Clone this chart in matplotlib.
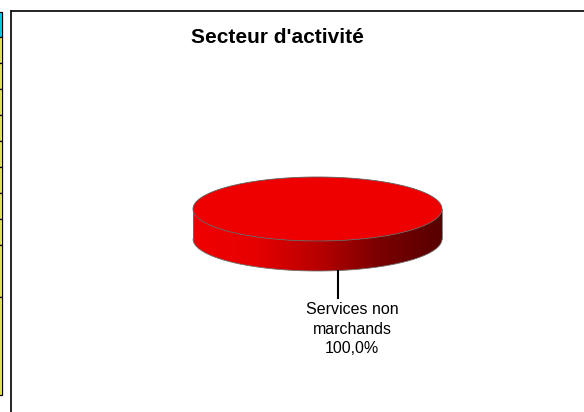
import numpy as np
import matplotlib
matplotlib.use('Agg')
import matplotlib.pyplot as plt
from matplotlib.patches import Polygon, Rectangle
from matplotlib.colors import LinearSegmentedColormap

plt.rcParams['font.family'] = ['Liberation Sans', 'DejaVu Sans']

# data
labels = ['Services non\nmarchands']
values = [100.0]
title = "Secteur d'activité"

W, H = 584, 412
fig = plt.figure(figsize=(W / 100, H / 100), dpi=100)
ax = fig.add_axes([0, 0, 1, 1])
ax.set_xlim(0, W)
ax.set_ylim(H, 0)
ax.axis('off')

# left strip of cells (piece of neighbouring table)
edges = [12, 37, 63, 89, 115, 141, 167, 193, 219, 245, 297, 395]
for i in range(len(edges) - 1):
    fc = '#00e8ff' if i == 0 else '#ffff60'
    ax.add_patch(Rectangle((-1, edges[i]), 3.2, edges[i + 1] - edges[i],
                           facecolor=fc, edgecolor='black', linewidth=0.9))

# chart frame
ax.plot([11, 11], [10, H + 2], color='black', lw=1.2, solid_capstyle='butt')
ax.plot([11, W + 2], [10.5, 10.5], color='black', lw=1.2, solid_capstyle='butt')

ax.text(277, 37, title, ha='center', va='center', fontsize=15, fontweight='bold')

# 3d pie geometry
cx, cy, rx, ry, depth = 317.5, 209, 124.5, 32, 30
side_cmap = LinearSegmentedColormap.from_list(
    'side', ['#f00000', '#e60000', '#b80000', '#7a0000', '#580000'])

total = sum(values)
start = 90.0
for lab, v in zip(labels, values):
    frac = v / total
    t1, t2 = start, start + frac * 360
    start = t2
    # side (front half only)
    a = max(t1, 180) if t2 - t1 < 360 else 180
    b = min(t2, 360) if t2 - t1 < 360 else 360
    if b > a:
        tt = np.radians(np.linspace(a, b, 200))
        xs = cx + rx * np.cos(tt)
        ys = cy - ry * np.sin(tt)
        pts = np.column_stack([np.r_[xs, xs[::-1]], np.r_[ys, ys[::-1] + depth]])
        side = Polygon(pts, closed=True, facecolor='none', edgecolor='none')
        ax.add_patch(side)
        grad = np.linspace(0, 1, 256).reshape(1, -1)
        im = ax.imshow(grad, cmap=side_cmap, aspect='auto',
                       extent=[cx - rx, cx + rx, cy + ry + depth, cy - ry],
                       interpolation='bilinear', zorder=2)
        im.set_clip_path(side)
        ax.plot(xs, ys + depth, color='#707070', lw=0.6, zorder=3)
        ax.plot([xs[0], xs[0]], [ys[0], ys[0] + depth], color='#707070', lw=0.6, zorder=3)
        ax.plot([xs[-1], xs[-1]], [ys[-1], ys[-1] + depth], color='#707070', lw=0.6, zorder=3)
    # top face
    tt = np.radians(np.linspace(t1, t2, 400))
    xs = cx + rx * np.cos(tt)
    ys = cy - ry * np.sin(tt)
    if t2 - t1 < 360:
        xs = np.r_[cx, xs]
        ys = np.r_[cy, ys]
    ax.add_patch(Polygon(np.column_stack([xs, ys]), closed=True, facecolor='#ee0000',
                         edgecolor='#606060', linewidth=0.6, zorder=4))
    # leader line + label
    ax.plot([338, 338], [cy + ry + depth, 298], color='black', lw=1.5, zorder=5)
    ax.text(352, 329, f"{lab}\n{v:.1f}%".replace('.', ','), ha='center', va='center',
            fontsize=11.5, linespacing=1.4)

fig.savefig('out.png', dpi=100)
